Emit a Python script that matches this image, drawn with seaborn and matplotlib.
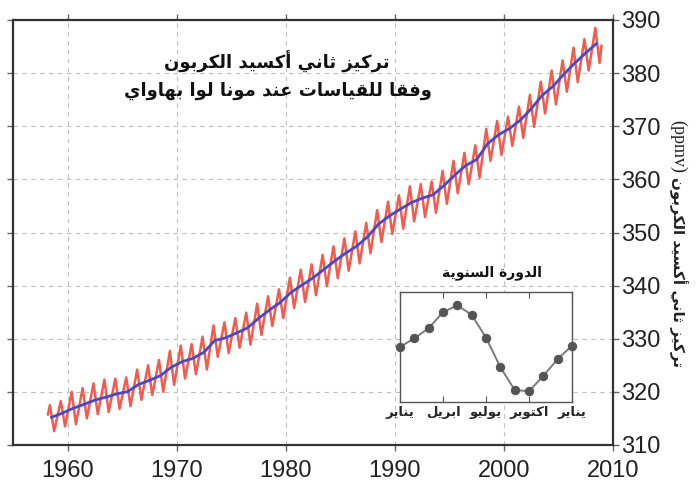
import numpy as np
import pandas as pd
import matplotlib
matplotlib.use("Agg")
import matplotlib.pyplot as plt
import seaborn as sns

# --------------------------
# Data
# --------------------------
years = list(range(1958, 2009))

# seasonal high (about May) and low (about October) of the monthly curve, ppmv
red_peak = [317.5, 318.3, 320.0, 320.7, 321.6, 322.3, 322.5, 322.7, 324.2, 325.0,
            326.0, 327.7, 328.7, 329.0, 330.4, 332.5, 333.1, 333.9, 334.9, 336.6,
            338.0, 339.3, 341.5, 343.0, 344.0, 345.8, 347.4, 348.9, 350.2, 351.8,
            354.2, 355.8, 357.0, 358.7, 359.1, 359.6, 361.6, 363.5, 365.0, 366.4,
            369.5, 371.0, 371.8, 373.7, 375.9, 378.4, 380.5, 382.4, 384.8, 386.4,
            388.5]
red_trough = [312.6, 313.5, 313.9, 315.0, 315.8, 316.2, 316.8, 317.3, 318.5, 319.4,
              320.0, 321.3, 322.5, 323.3, 324.2, 326.6, 327.3, 328.3, 328.9, 330.7,
              332.4, 333.9, 335.8, 336.9, 338.2, 339.9, 341.4, 342.8, 344.2, 346.1,
              348.2, 349.7, 350.7, 352.1, 352.9, 353.7, 355.4, 357.4, 359.1, 360.3,
              363.5, 364.6, 366.3, 367.8, 369.9, 372.4, 374.1, 376.5, 378.3, 380.5,
              381.9]
red_start = (1958.2, 315.7)
red_end = (2008.95, 385.2)

# de-seasonalised trend (annual means), ppmv
blue_trend = [315.2, 315.97, 316.91, 317.64, 318.45, 318.99, 319.62, 320.04, 321.38, 322.16,
              323.04, 324.62, 325.68, 326.32, 327.45, 329.68, 330.18, 331.11, 332.04, 333.83,
              335.40, 336.84, 338.75, 340.11, 341.45, 343.05, 344.65, 346.12, 347.42, 349.19,
              351.57, 353.12, 354.39, 355.61, 356.45, 357.10, 358.83, 360.82, 362.61, 363.73,
              366.70, 368.38, 369.55, 371.14, 373.28, 375.80, 377.52, 379.80, 381.90, 383.79,
              385.60]

# annual cycle (inset), deviation from mean, Jan .. Jan
cycle_month = list(range(13))
cycle_value = [0.1, 0.75, 1.5, 2.7, 3.2, 2.5, 0.8, -1.4, -3.1, -3.2, -2.05, -0.8, 0.2]
cycle_ticks = [0, 3, 6, 9, 12]
cycle_labels = ["يناير", "ابريل", "يوليو", "اكتوبر", "يناير"]

title_1 = "تركيز ثاني أكسيد الكربون"
title_2 = "وفقا للقياسات عند مونا لوا بهاواي"
inset_title = "الدورة السنوية"
y_label = "تركيز ثاني أكسيد الكربون"

x_ticks = [1960, 1970, 1980, 1990, 2000, 2010]
y_ticks = [310, 320, 330, 340, 350, 360, 370, 380, 390]

# --------------------------
# Arabic shaping (matplotlib has no shaping / bidi)
# --------------------------
DUAL = {'ب': 0xFE8F, 'ت': 0xFE95, 'ث': 0xFE99, 'س': 0xFEB1, 'ع': 0xFEC9,
        'ف': 0xFED1, 'ق': 0xFED5, 'ك': 0xFED9, 'ل': 0xFEDD, 'م': 0xFEE1,
        'ن': 0xFEE5, 'ه': 0xFEE9, 'ي': 0xFEF1}
RIGHT = {'ا': 0xFE8D, 'أ': 0xFE83, 'ة': 0xFE93, 'د': 0xFEA9, 'ر': 0xFEAD,
         'ز': 0xFEAF, 'و': 0xFEED}


def shape(txt):
    out = []
    prev_joins = False
    i = 0
    n = len(txt)
    while i < n:
        c = txt[i]
        if c == 'ل' and i + 1 < n and txt[i + 1] in ('ا', 'أ'):
            lig = 0xFEFB if txt[i + 1] == 'ا' else 0xFEF7
            out.append(chr(lig + (1 if prev_joins else 0)))
            prev_joins = False
            i += 2
            continue
        if c in DUAL:
            nxt = i + 1 < n and (txt[i + 1] in DUAL or txt[i + 1] in RIGHT)
            if prev_joins and nxt:
                off = 3
            elif prev_joins:
                off = 1
            elif nxt:
                off = 2
            else:
                off = 0
            out.append(chr(DUAL[c] + off))
            prev_joins = nxt
        elif c in RIGHT:
            out.append(chr(RIGHT[c] + (1 if prev_joins else 0)))
            prev_joins = False
        else:
            out.append(c)
            prev_joins = False
        i += 1
    return ''.join(reversed(out))


# --------------------------
# Build plotting tables
# --------------------------
red_x = [red_start[0]]
red_y = [red_start[1]]
for yr, hi, lo in zip(years, red_peak, red_trough):
    red_x += [yr + 0.38, yr + 0.77]
    red_y += [hi, lo]
red_x.append(red_end[0])
red_y.append(red_end[1])
red_df = pd.DataFrame({"year": red_x, "co2": red_y})
blue_df = pd.DataFrame({"year": [y + 0.5 for y in years], "co2": blue_trend})
cycle_df = pd.DataFrame({"month": cycle_month, "dev": cycle_value})

# --------------------------
# Plot
# --------------------------
sns.set_style("white")
plt.rcParams['font.family'] = ['Liberation Sans', 'DejaVu Sans']

W, H = 700, 482
fig = plt.figure(figsize=(7, 4.82), dpi=100)
ax = fig.add_axes([13 / W, 1 - 445 / H, 600 / W, 425 / H])

sns.lineplot(data=red_df, x="year", y="co2", ax=ax, color="#f05c4e", lw=1.8,
             estimator=None, sort=False)
sns.lineplot(data=blue_df, x="year", y="co2", ax=ax, color="#4a48c4", lw=2.0,
             estimator=None)

ax.set_xlim(1955, 2010)
ax.set_ylim(310, 390)
ax.set_xticks(x_ticks)
ax.set_yticks(y_ticks)
ax.set_xlabel("")
ax.set_ylabel("")
ax.grid(True, color="#c0c0c0", ls=(0, (4, 4)), lw=0.8)
ax.tick_params(axis='both', direction='out', length=4, width=1, color="#666666",
               labelsize=17, labelcolor="#222222", pad=2)
ax.tick_params(axis='y', left=True, right=True, labelleft=False, labelright=True)
ax.tick_params(axis='x', top=True, bottom=True, pad=7)
for sp in ax.spines.values():
    sp.set_visible(True)
    sp.set_color("#333333")
    sp.set_linewidth(1.6)

fig.text(277 / W, 1 - 62 / H, shape(title_1), ha='center', va='center',
         fontsize=13, fontweight='bold', family='DejaVu Sans', color="#111111")
fig.text(278 / W, 1 - 91 / H, shape(title_2), ha='center', va='center',
         fontsize=13, fontweight='bold', family='DejaVu Sans', color="#111111")

# right side axis label
fig.text(678 / W, 1 - 120 / H, "(ppmv)", rotation=270, ha='center', va='top',
         fontsize=13, family='Liberation Serif', color="#222222")
fig.text(678 / W, 1 - 367 / H, shape(y_label), rotation=270, ha='center', va='bottom',
         fontsize=11, fontweight='bold', family='DejaVu Sans', color="#222222")

# inset: annual cycle
ax2 = fig.add_axes([400 / W, 1 - 402 / H, 172 / W, 110 / H])
ax2.set_facecolor("white")
sns.lineplot(data=cycle_df, x="month", y="dev", ax=ax2, color="#7a7a7a", lw=1.4,
             marker="o", markersize=6, markerfacecolor="#555555",
             markeredgecolor="#555555", clip_on=False)
ax2.set_xlim(0, 12)
ax2.set_ylim(-4.0, 4.2)
ax2.set_xticks(cycle_ticks)
ax2.set_xticklabels([shape(s) for s in cycle_labels], fontsize=9.5,
                    fontweight='bold', family='DejaVu Sans')
ax2.set_yticks([])
ax2.set_xlabel("")
ax2.set_ylabel("")
ax2.tick_params(axis='x', direction='in', length=4, top=True, bottom=True,
                color="#555555", pad=3)
for sp in ax2.spines.values():
    sp.set_visible(True)
    sp.set_color("#555555")
    sp.set_linewidth(1.0)
fig.text(492 / W, 1 - 273 / H, shape(inset_title), ha='center', va='center',
         fontsize=10, fontweight='bold', family='DejaVu Sans', color="#111111")

fig.savefig("out.png", dpi=100, facecolor="white")
